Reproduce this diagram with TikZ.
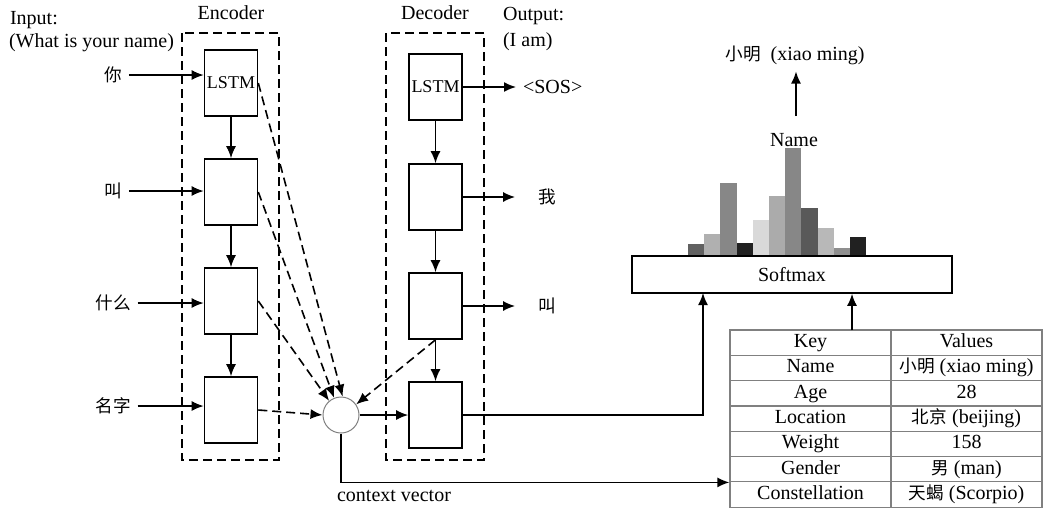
\documentclass[tikz,border=0pt]{standalone}
\usepackage{fontspec}
\setmainfont{Liberation Serif}
\newfontfamily\cjk[Scale=0.88]{Noto Sans CJK SC}
\usetikzlibrary{arrows.meta}

\tikzset{
  lstm/.style={draw, line width=0.8pt, minimum width=26.5pt, minimum height=33pt, inner sep=0pt, font=\fontsize{9}{10}\selectfont},
  frame/.style={line width=0.8pt, dash pattern=on 4.5pt off 2.5pt},
  link/.style={line width=0.8pt, -{Latex[length=6pt,width=5pt]}},
  dlink/.style={link, dash pattern=on 4.5pt off 2.5pt},
  cell/.style={draw=gray, line width=0.6pt, minimum height=12.65pt, inner sep=0pt, text height=7pt, text depth=2pt},
  cn/.style={font=\cjk},
}

\begin{document}
\begin{tikzpicture}[x=0.5pt,y=-0.5pt]
\useasboundingbox (0,0) rectangle (1044,510);

% encoder / decoder
\draw[frame] (182,33) rectangle (279,460);
\draw[frame] (386,33) rectangle (484,460);
\node (enclab) at (231,13) {Encoder};
\node (declab) at (435,13) {Decoder};
\node[anchor=west] (inp) at (3,20) {Input:};
\node[anchor=west] (inq) at (2,43) {(What is your name)};
\node[anchor=west] (outp) at (496,16) {Output:};
\node[anchor=west] (outq) at (496,42) {(I am)};

\foreach \i/\y in {1/83,2/192,3/301,4/410}
{\node[lstm] (e\i) at (231,\y) {};}
\foreach \i/\y in {1/87,2/197,3/306,4/415}
{\node[lstm] (d\i) at (435.5,\y) {};}
\node[font=\fontsize{9}{10}\selectfont] at (e1) {LSTM};
\node[font=\fontsize{9}{10}\selectfont] at (d1) {LSTM};

\foreach \a/\b in {1/2,2/3,3/4}
{\draw[link] (e\a.south) -- (e\b.north);
 \draw[link] (d\a.south) -- (d\b.north);}

\foreach \i/\y/\w in {1/75/你,2/191/叫,3/303/什么,4/406/名字}
{\node[cn] (w\i) at (113,\y) {\w};
 \draw[link] (w\i.east) -- (w\i -| e\i.west);}

\node[anchor=west] (o1) at (516,87) {<SOS>};
\node[cn] (o2) at (547,197) {我};
\node[cn] (o3) at (547,306) {叫};
\draw[link] (d1.east) -- (o1.west);
\draw[link, shorten >=8pt] (d2.east) -- (o2.west);
\draw[link, shorten >=8pt] (d3.east) -- (o3.west);

% attention
\node[circle, draw=gray, line width=0.5pt, minimum size=18pt, inner sep=0pt] (c) at (341,415) {};
\draw[dlink] (e1.east) -- (c.85);
\draw[dlink] (e2.east) -- (c.112);
\draw[dlink] (e3.east) -- (c.130);
\draw[dlink] (e4.east) -- (c.west);
\draw[dlink] (d3.south) -- (c.35);
\draw[link] (c.east) -- (d4.west);

% softmax
\foreach \i/\h/\g in {0/12/62,1/22/31,2/73/47,3/13/87,4/36/15,5/60/33,6/108/47,7/48/65,8/28/28,9/8/44,10/19/87}
{\fill[black!\g] ({688+16.2*\i},256) rectangle ({704.2+16.2*\i},{256-\h});}
\node[draw, line width=0.8pt, minimum width=160pt, minimum height=18.5pt, inner sep=0pt] (sm) at (792,274.5) {Softmax};
\node (nm) at (794,140) {Name};
\node (xm) at (795,55) {{\cjk 小明}\enspace(xiao ming)};
\coordinate (na) at (796,116);
\draw[link] (na) -- (na |- xm.south);

% key / values
\foreach \i/\k/\v in {0/Key/Values,1/Name/{\cjk 小明} (xiao ming),2/Age/28,3/Location/{\cjk 北京} (beijing),4/Weight/158,5/Gender/{\cjk 男} (man),6/Constellation/{\cjk 天蝎} (Scorpio)}
{\node[cell, minimum width=80.5pt] (k\i) at (810.5,{342.65+25.3*\i}) {\k};
 \node[cell, minimum width=75.5pt] (v\i) at (966.5,{342.65+25.3*\i}) {\v};}

\coordinate (sa) at (703,293);
\draw[link] (d4.east) -| (sa);
\coordinate (ta) at (852,330);
\draw[link] (ta) -- (ta |- sm.south);
\draw[link] (c.south) |- (k5.south west);
\node[anchor=west] (cv) at (330,496) {context vector};
\end{tikzpicture}
\end{document}
